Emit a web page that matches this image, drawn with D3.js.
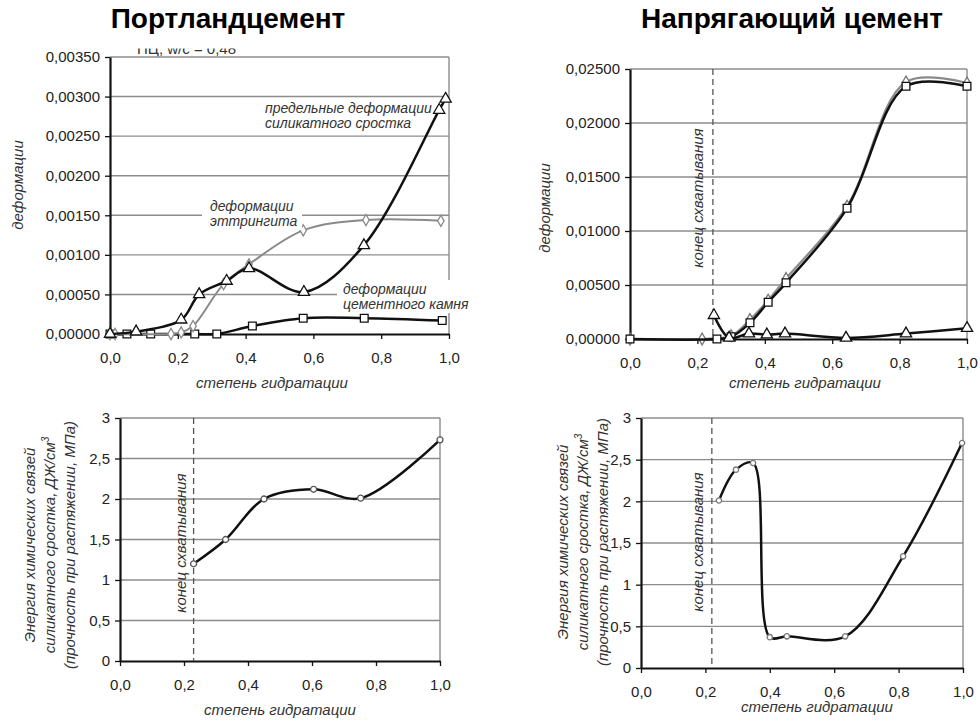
<!DOCTYPE html>
<html>
<head>
<meta charset="utf-8">
<script src="https://cdn.jsdelivr.net/npm/d3@7"></script>
<style>
  body { margin: 0; background: #fff; }
  svg { font-family: "Liberation Sans", Arial, sans-serif; }
</style>
</head>
<body>
<script>
// ---- data: Портландцемент, деформации ----
const plStoneX = [0, 0.05, 0.12, 0.25, 0.315, 0.42, 0.57, 0.75, 0.98];
const plStoneY = [0, 0, 0, 0, 0, 0.0001, 0.0002, 0.0002, 0.00017];
const plEttrX = [0, 0.015, 0.18, 0.21, 0.245, 0.335, 0.41, 0.57, 0.755, 0.976];
const plEttrY = [0, 0, 0, 0.00002, 0.0001, 0.00063, 0.00088, 0.00131, 0.00144, 0.00143];
const plLimX = [0, 0.077, 0.21, 0.263, 0.344, 0.41, 0.572, 0.749, 0.971, 0.99];
const plLimY = [0, 0.00003, 0.00018, 0.0005, 0.00067, 0.00083, 0.00053, 0.00112, 0.00283, 0.00297];

// ---- data: Напрягающий цемент, деформации ----
const ncSqX = [0, 0.258, 0.30, 0.356, 0.41, 0.463, 0.644, 0.819, 1.0];
const ncSqY = [0, 0, 0.0002, 0.0015, 0.0034, 0.0052, 0.0121, 0.0234, 0.0234];
const ncDiX = [0, 0.214, 0.30, 0.356, 0.41, 0.463, 0.644, 0.819, 1.0];
const ncDiY = [0, 0, 0.0003, 0.0018, 0.0036, 0.0056, 0.0123, 0.0238, 0.0237];
const ncTrX = [0.249, 0.294, 0.353, 0.406, 0.46, 0.641, 0.819, 1.0];
const ncTrY = [0.0022, 0.0001, 0.0005, 0.0004, 0.0005, 0.0001, 0.0005, 0.001];

// ---- data: энергия связей ----
const plEnX = [0.23, 0.33, 0.45, 0.605, 0.752, 1.0];
const plEnY = [1.2, 1.5, 2.0, 2.12, 2.01, 2.73];
const ncEnX = [0.242, 0.295, 0.348, 0.40, 0.453, 0.634, 0.814, 0.997];
const ncEnY = [2.01, 2.38, 2.46, 0.37, 0.38, 0.38, 1.34, 2.70];

// ticks
const xTicks = [0, 0.2, 0.4, 0.6, 0.8, 1.0];
const plDefTicks = [0, 0.0005, 0.001, 0.0015, 0.002, 0.0025, 0.003, 0.0035];
const ncDefTicks = [0, 0.005, 0.01, 0.015, 0.02, 0.025];
const enTicks = [0, 0.5, 1, 1.5, 2, 2.5, 3];
const setEnd = [0.23, 0.246, 0.22]; // конец схватывания: BL, TR, BR

const svg = d3.select('body').append('svg').attr('width', 980).attr('height', 722);

const commaFmt = f => d => d3.format(f)(d).replace('.', ',');
const plainComma = d => String(d).replace('.', ',');
const zip = (a, b) => a.map((v, i) => [v, b[i]]);

const GRID = '#8c8c8c';

function panel(p) {
    const x = d3.scaleLinear().domain([0, 1]).range([p.x0, p.x1]);
    const y = d3.scaleLinear().domain([0, p.yMax]).range([p.y0, p.y1]);
    const g = svg.append('g');

    // gridlines + top border
    g.append('g').selectAll('line')
     .data(p.yTicks.filter(t => t > 0))
     .join('line')
     .attr('x1', p.x0).attr('x2', p.x1)
     .attr('y1', d => y(d)).attr('y2', d => y(d))
     .attr('stroke', GRID).attr('stroke-width', 1.4);

    // right border
    g.append('line')
     .attr('x1', p.x1).attr('x2', p.x1).attr('y1', p.y1).attr('y2', p.y0)
     .attr('stroke', GRID).attr('stroke-width', 1.4);

    // axes
    const yAxis = d3.axisLeft(y).tickValues(p.yTicks).tickFormat(p.yFmt)
                    .tickSize(5).tickSizeOuter(0).tickPadding(5);
    const xAxis = d3.axisBottom(x).tickValues(xTicks).tickFormat(commaFmt('.1f'))
                    .tickSize(5).tickSizeOuter(0).tickPadding(13);
    const ya = g.append('g').attr('transform', 'translate(' + p.x0 + ',0)').call(yAxis);
    const xa = g.append('g').attr('transform', 'translate(0,' + p.y0 + ')').call(xAxis);
    [ya, xa].forEach(a => {
        a.select('.domain').attr('stroke', '#111').attr('stroke-width', 2.2);
        a.selectAll('.tick line').attr('stroke', '#111').attr('stroke-width', 1.3);
        a.selectAll('.tick text').attr('font-size', 15).attr('fill', '#222');
    });

    return {g, x, y};
}

function series(c, xs, ys, o) {
    const pts = zip(xs, ys);
    const line = d3.line().x(d => c.x(d[0])).y(d => c.y(d[1]))
                   .curve(d3.curveCatmullRom.alpha(0.5));
    c.g.append('path').datum(pts).attr('d', line)
       .attr('fill', 'none').attr('stroke', o.color).attr('stroke-width', o.width);
    c.g.append('g').selectAll('path')
       .data(pts).join('path')
       .attr('transform', d => 'translate(' + c.x(d[0]) + ',' + c.y(d[1]) + ')')
       .attr('d', d3.symbol().type(o.symbol).size(o.size))
       .attr('fill', '#fff').attr('stroke', o.mcolor || o.color).attr('stroke-width', 1.3);
}

function vText(x, y, lines, size, dx) {
    lines.forEach((t, i) => {
        svg.append('text')
           .attr('transform', 'translate(' + (x + i * dx) + ',' + y + ') rotate(-90)')
           .attr('text-anchor', 'middle').attr('font-size', size)
           .attr('font-style', 'italic').attr('fill', '#333')
           .html(t);
    });
}

function hText(x, y, t, size, anchor) {
    svg.append('text').attr('x', x).attr('y', y).attr('font-size', size)
       .attr('font-style', 'italic').attr('fill', '#333')
       .attr('text-anchor', anchor || 'start').text(t);
}

function whiteBox(x, y, w, h) {
    svg.append('rect').attr('x', x).attr('y', y).attr('width', w).attr('height', h).attr('fill', '#fff');
}

function dashed(c, v) {
    c.g.append('line')
       .attr('x1', c.x(v)).attr('x2', c.x(v))
       .attr('y1', c.y.range()[1]).attr('y2', c.y.range()[0])
       .attr('stroke', '#555').attr('stroke-width', 1.3).attr('stroke-dasharray', '6,4');
}

// titles
svg.append('text').attr('x', 228).attr('y', 28).attr('text-anchor', 'middle')
   .attr('font-size', 28).attr('font-weight', 'bold').text('Портландцемент');
svg.append('text').attr('x', 792).attr('y', 28).attr('text-anchor', 'middle')
   .attr('font-size', 28).attr('font-weight', 'bold').text('Напрягающий цемент');

// cut-off caption over the first chart
svg.append('clipPath').attr('id', 'cut').append('rect')
   .attr('x', 120).attr('y', 48.5).attr('width', 200).attr('height', 8);
svg.append('text').attr('x', 137).attr('y', 54).attr('font-size', 15).attr('fill', '#333')
   .attr('clip-path', 'url(#cut)').text('ПЦ, w/c = 0,48');

// ---- top-left ----
const tl = panel({x0: 110, x1: 449, y0: 334, y1: 57, yMax: 0.0035,
                  yTicks: plDefTicks, yFmt: commaFmt('.5f')});
whiteBox(202, 199, 100, 31);
whiteBox(337, 280, 137, 33);
hText(210, 211, 'деформации', 14);
hText(210, 226, 'эттрингита', 14);
hText(343, 294, 'деформации', 14);
hText(343, 309, 'цементного камня', 14);
hText(265, 113, 'предельные деформации', 14);
hText(265, 128, 'силикатного сростка', 14);
series(tl, plStoneX, plStoneY, {color: '#111', width: 2.5, symbol: d3.symbolSquare, size: 60});
series(tl, plEttrX, plEttrY, {color: '#8a8a8a', width: 2, symbol: d3.symbolDiamond, size: 36});
series(tl, plLimX, plLimY, {color: '#111', width: 2.5, symbol: d3.symbolTriangle, size: 55});
vText(23, 185, ['деформации'], 15, 0);
hText(272, 388, 'степень гидратации', 15, 'middle');

// ---- top-right ----
const tr = panel({x0: 630, x1: 967, y0: 339, y1: 69, yMax: 0.025,
                  yTicks: ncDefTicks, yFmt: commaFmt('.5f')});
dashed(tr, setEnd[1]);
vText(703, 198, ['конец схватывания'], 15, 0);
series(tr, ncDiX, ncDiY, {color: '#8a8a8a', width: 2.2, symbol: d3.symbolDiamond, size: 40, mcolor: '#777'});
series(tr, ncSqX, ncSqY, {color: '#111', width: 2.5, symbol: d3.symbolSquare, size: 60});
series(tr, ncTrX, ncTrY, {color: '#111', width: 2.5, symbol: d3.symbolTriangle, size: 55});
vText(550, 208, ['деформации'], 15, 0);
hText(805, 388, 'степень гидратации', 15, 'middle');

// ---- bottom-left ----
const bl = panel({x0: 120, x1: 440, y0: 661, y1: 418, yMax: 3,
                  yTicks: enTicks, yFmt: plainComma});
dashed(bl, setEnd[0]);
vText(186, 543, ['конец схватывания'], 15, 0);
series(bl, plEnX, plEnY, {color: '#111', width: 2.5, symbol: d3.symbolCircle, size: 28, mcolor: '#555'});
vText(35, 545, ['Энергия химических связей',
                'силикатного сростка, ДЖ/см<tspan dy="-6" font-size="10">3</tspan>',
                '(прочность при растяжении, МПа)'], 15, 20);
hText(280, 715, 'степень гидратации', 15, 'middle');

// ---- bottom-right ----
const br = panel({x0: 641, x1: 963, y0: 668, y1: 418, yMax: 3,
                  yTicks: enTicks, yFmt: plainComma});
dashed(br, setEnd[2]);
vText(703, 542, ['конец схватывания'], 15, 0);
series(br, ncEnX, ncEnY, {color: '#111', width: 2.5, symbol: d3.symbolCircle, size: 22, mcolor: '#777'});
vText(568, 542, ['Энергия химических связей',
                 'силикатного сростка, ДЖ/см<tspan dy="-6" font-size="10">3</tspan>',
                 '(прочность при растяжении, МПа)'], 15, 20);
hText(817, 712, 'степень гидратации', 15, 'middle');
</script>
</body>
</html>
